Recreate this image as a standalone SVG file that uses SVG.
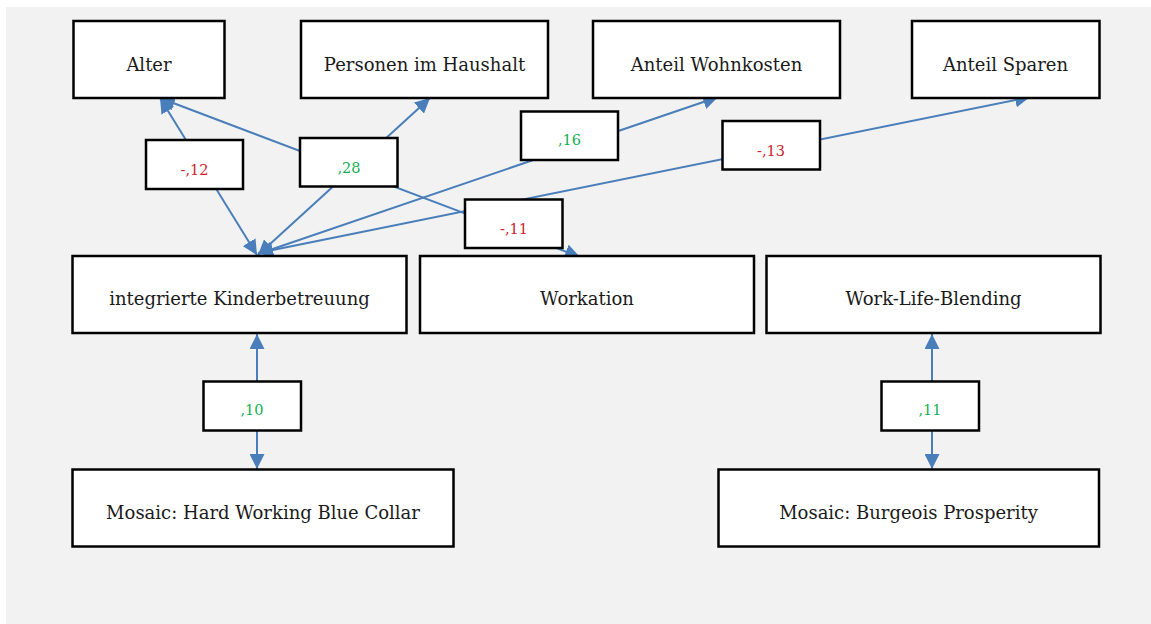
<svg xmlns="http://www.w3.org/2000/svg" width="1151" height="624" viewBox="0 0 1151 624">
<style>
.node rect{fill:#ffffff;stroke:#000000;stroke-width:2.5}
.node text{font-family:"DejaVu Serif","Liberation Serif",serif;font-size:18px;fill:#1a1a1a;text-anchor:middle}
.lbl rect{fill:#ffffff;stroke:#000000;stroke-width:2.5}
.lbl text{font-family:"DejaVu Serif","Liberation Serif",serif;font-size:14.5px;text-anchor:middle}
.neg{fill:#d0202a}
.pos{fill:#10b050}
.edge{stroke:#4a7ebb;stroke-width:2;fill:none;marker-end:url(#ah)}
.both{marker-start:url(#ah)}
</style>
<defs>
<marker id="ah" markerUnits="userSpaceOnUse" markerWidth="16" markerHeight="15" refX="15" refY="7.5" orient="auto-start-reverse">
<path d="M0,0 L15,7.5 L0,15 z" fill="#4a7ebb"/>
</marker>
</defs>
<rect x="6" y="7" width="1145" height="617" fill="#f2f2f2"/>
<g id="connectors">
<line class="edge both" x1="160" y1="98" x2="257" y2="255"/>
<line class="edge both" x1="160" y1="98" x2="580" y2="257"/>
<line class="edge both" x1="430" y1="98" x2="258" y2="255"/>
<line class="edge both" x1="718" y1="97" x2="258" y2="254"/>
<line class="edge both" x1="1030" y1="97" x2="258" y2="253"/>
<line class="edge both" x1="257" y1="334" x2="257" y2="469"/>
<line class="edge both" x1="932" y1="334" x2="932" y2="469"/>
<g class="lbl"><rect x="146" y="140" width="97" height="49"/><text class="neg" x="194.5" y="174.5">-,12</text></g>
<g class="lbl"><rect x="300" y="138" width="97.5" height="48.5"/><text class="pos" x="349" y="172.5">,28</text></g>
<g class="lbl"><rect x="521" y="111.5" width="97" height="48.5"/><text class="pos" x="569.5" y="145">,16</text></g>
<g class="lbl"><rect x="722.5" y="121" width="97.5" height="48.5"/><text class="neg" x="771" y="155.5">-,13</text></g>
<g class="lbl"><rect x="465" y="199.5" width="97.5" height="48.5"/><text class="neg" x="514" y="234">-,11</text></g>
<g class="lbl"><rect x="203.5" y="381.5" width="97.5" height="49"/><text class="pos" x="252" y="415">,10</text></g>
<g class="lbl"><rect x="881.5" y="381.5" width="97.5" height="49"/><text class="pos" x="930" y="415">,11</text></g>
</g>
<g id="alter" class="node"><rect x="73.5" y="21" width="151" height="77"/><text x="149" y="70.5">Alter</text></g>
<g id="personen" class="node"><rect x="301" y="21" width="247" height="77"/><text x="424.5" y="70.5">Personen im Haushalt</text></g>
<g id="wohnkosten" class="node"><rect x="593" y="21" width="247" height="77"/><text x="716.5" y="70.5">Anteil Wohnkosten</text></g>
<g id="sparen" class="node"><rect x="912" y="21" width="187.5" height="77"/><text x="1005.5" y="70.5">Anteil Sparen</text></g>
<g id="kinder" class="node"><rect x="72.5" y="256" width="334" height="77"/><text x="239.5" y="305">integrierte Kinderbetreuung</text></g>
<g id="workation" class="node"><rect x="420" y="256" width="334" height="77"/><text x="587" y="305">Workation</text></g>
<g id="wlb" class="node"><rect x="766.5" y="256" width="334" height="77"/><text x="933.5" y="305">Work-Life-Blending</text></g>
<g id="mosaic1" class="node"><rect x="72.5" y="469.5" width="381" height="77"/><text x="263" y="518.5">Mosaic: Hard Working Blue Collar</text></g>
<g id="mosaic2" class="node"><rect x="718.5" y="469.5" width="380.5" height="77"/><text x="908.5" y="518.5">Mosaic: Burgeois Prosperity</text></g>
</svg>
